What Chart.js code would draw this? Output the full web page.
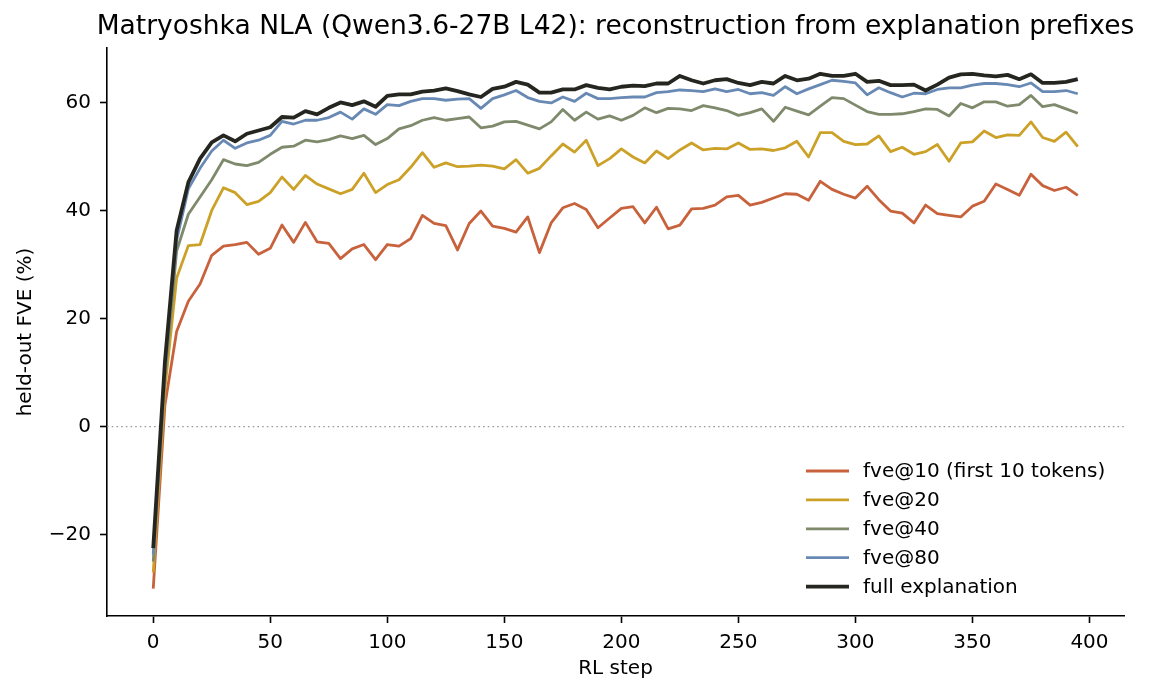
<!DOCTYPE html>
<html>
<head>
<meta charset="utf-8">
<script src="https://cdn.jsdelivr.net/npm/chart.js@4.4.1/dist/chart.umd.min.js"></script>
<style>
  html, body { margin: 0; padding: 0; background: #fff; overflow: hidden; }
  canvas { display: block; }
</style>
</head>
<body>
<canvas id="myChart" width="1152" height="696"></canvas>
<script>
// RL steps (x) and tick positions
const steps = [
  0, 5, 10, 15, 20, 25, 30, 35, 40, 45,
  50, 55, 60, 65, 70, 75, 80, 85, 90, 95,
  100, 105, 110, 115, 120, 125, 130, 135, 140, 145,
  150, 155, 160, 165, 170, 175, 180, 185, 190, 195,
  200, 205, 210, 215, 220, 225, 230, 235, 240, 245,
  250, 255, 260, 265, 270, 275, 280, 285, 290, 295,
  300, 305, 310, 315, 320, 325, 330, 335, 340, 345,
  350, 355, 360, 365, 370, 375, 380, 385, 390, 395
];
const xTicks = [0, 50, 100, 150, 200, 250, 300, 350, 400];
const yTicks = [-20, 0, 20, 40, 60];

// held-out FVE (%) per prefix length
const fve10 = [
  -30, 4, 17.6, 23.2, 26.4, 31.7, 33.4, 33.7, 34.1, 31.9,
  33.0, 37.3, 34.1, 37.8, 34.2, 33.9, 31.1, 32.9, 33.7, 30.9,
  33.7, 33.4, 34.8, 39.1, 37.6, 37.2, 32.7, 37.6, 39.9, 37.1,
  36.7, 36.0, 38.8, 32.2, 37.7, 40.5, 41.3, 40.2, 36.8, 38.6,
  40.4, 40.7, 37.7, 40.6, 36.6, 37.3, 40.3, 40.4, 41.0, 42.5,
  42.8, 41.0, 41.5, 42.3, 43.1, 43.0, 41.9, 45.4, 43.9, 43.0,
  42.3, 44.5, 42.0, 39.9, 39.5, 37.7, 41.0, 39.4, 39.1, 38.8,
  40.8, 41.7, 44.9, 43.9, 42.8, 46.7, 44.6, 43.7, 44.3, 42.8
];
const fve20 = [
  -27, 7, 27.5, 33.5, 33.7, 40.0, 44.2, 43.3, 41.1, 41.7,
  43.3, 46.2, 43.9, 46.5, 44.9, 44.0, 43.1, 43.9, 46.9, 43.3,
  44.8, 45.7, 48.0, 50.7, 48.0, 48.8, 48.1, 48.2, 48.4, 48.2,
  47.7, 49.4, 46.9, 47.8, 50.1, 52.3, 50.8, 53.0, 48.3, 49.6,
  51.4, 49.9, 48.8, 51.0, 49.6, 51.2, 52.5, 51.2, 51.5, 51.4,
  52.5, 51.3, 51.4, 51.1, 51.6, 52.8, 49.9, 54.4, 54.4, 52.8,
  52.2, 52.3, 53.8, 50.9, 51.7, 50.4, 50.9, 52.2, 49.1, 52.5,
  52.7, 54.7, 53.5, 54.0, 53.9, 56.4, 53.5, 52.8, 54.5, 51.8
];
const fve40 = [
  -25, 9, 32.5, 39.3, 42.5, 45.7, 49.4, 48.6, 48.3, 48.9,
  50.4, 51.7, 51.9, 53.0, 52.7, 53.1, 53.8, 53.3, 53.9, 52.2,
  53.3, 55.1, 55.7, 56.7, 57.2, 56.7, 57.0, 57.3, 55.3, 55.6,
  56.4, 56.5, 55.8, 55.1, 56.4, 58.7, 56.7, 58.2, 56.9, 57.5,
  56.7, 57.6, 59.0, 58.1, 58.9, 58.8, 58.5, 59.4, 59.0, 58.5,
  57.6, 58.1, 58.8, 56.5, 59.1, 58.4, 57.7, 59.3, 60.9, 60.7,
  59.5, 58.3, 57.8, 57.8, 57.9, 58.3, 58.8, 58.7, 57.5, 59.8,
  59.0, 60.1, 60.1, 59.3, 59.6, 61.3, 59.2, 59.6, 58.8, 58.0
];
const fve80 = [
  -23.7, 11, 34.5, 44.0, 47.8, 51.0, 53.0, 51.5, 52.5, 53.0,
  53.9, 56.5, 56.0, 56.7, 56.7, 57.2, 58.2, 56.9, 58.8, 57.8,
  59.6, 59.4, 60.2, 60.7, 60.7, 60.4, 60.6, 60.7, 58.9, 60.7,
  61.4, 62.2, 60.9, 60.2, 59.9, 61.0, 60.2, 61.7, 60.7, 60.7,
  60.9, 61.0, 61.0, 61.8, 62.0, 62.3, 62.2, 62.0, 62.5, 62.0,
  62.4, 61.6, 61.8, 61.3, 62.9, 61.6, 62.5, 63.3, 64.1, 63.9,
  63.6, 61.4, 62.7, 61.8, 61.0, 61.7, 61.6, 62.4, 62.7, 62.7,
  63.2, 63.5, 63.5, 63.3, 62.9, 63.6, 62.0, 62.0, 62.2, 61.6
];
const fveFull = [
  -22.5, 12, 36.3, 45.2, 49.6, 52.6, 53.9, 52.8, 54.2, 54.8,
  55.4, 57.3, 57.2, 58.4, 57.8, 59.0, 60.0, 59.5, 60.2, 59.2,
  61.2, 61.5, 61.5, 62.0, 62.2, 62.6, 62.1, 61.5, 61.0, 62.5,
  62.9, 63.8, 63.3, 61.8, 61.8, 62.4, 62.4, 63.2, 62.7, 62.4,
  62.9, 63.1, 63.0, 63.5, 63.5, 64.9, 64.1, 63.5, 64.1, 64.3,
  63.6, 63.2, 63.8, 63.5, 64.9, 64.1, 64.4, 65.3, 64.9, 64.9,
  65.3, 63.8, 64.0, 63.2, 63.2, 63.3, 62.2, 63.3, 64.6, 65.2,
  65.3, 65.0, 64.8, 65.1, 64.3, 65.2, 63.6, 63.6, 63.8, 64.3
];

const chartTitle = 'Matryoshka NLA (Qwen3.6-27B L42): reconstruction from explanation prefixes';

const FONT = "'DejaVu Sans', 'Liberation Sans', sans-serif";
Chart.defaults.font.family = FONT;
Chart.defaults.font.size = 20;
Chart.defaults.color = '#000';

function pts(vals) {
  return vals.map((v, i) => ({ x: steps[i], y: v }));
}

function series(label, vals, color, width, order) {
  return {
    label: label,
    data: pts(vals),
    borderColor: color,
    backgroundColor: color,
    borderWidth: width,
    pointRadius: 0,
    tension: 0,
    fill: false,
    borderJoinStyle: 'round',
    order: order
  };
}

// dotted zero reference line
const zeroLine = {
  id: 'zeroLine',
  beforeDatasetsDraw(chart) {
    const { ctx, chartArea, scales } = chart;
    const y = scales.y.getPixelForValue(0);
    ctx.save();
    ctx.strokeStyle = '#9a9a9a';
    ctx.lineWidth = 1.3;
    ctx.setLineDash([1.6, 3.1]);
    ctx.beginPath();
    ctx.moveTo(chartArea.left, y);
    ctx.lineTo(chartArea.right, y);
    ctx.stroke();
    ctx.restore();
  }
};

// title centred over the axes, like matplotlib
const axesTitle = {
  id: 'axesTitle',
  afterDraw(chart) {
    const { ctx, chartArea } = chart;
    ctx.save();
    ctx.font = '26.5px ' + FONT;
    ctx.fillStyle = '#000';
    ctx.textAlign = 'center';
    ctx.textBaseline = 'middle';
    ctx.fillText(chartTitle, (chartArea.left + chartArea.right) / 2, 27.5);
    ctx.restore();
  }
};

// frameless legend in lower right, matplotlib style
const lineLegend = {
  id: 'lineLegend',
  afterDraw(chart) {
    const { ctx, chartArea } = chart;
    const x0 = chartArea.right - 318;
    const y0 = chartArea.bottom - 145;
    ctx.save();
    ctx.font = '20px ' + FONT;
    ctx.textBaseline = 'middle';
    ctx.textAlign = 'left';
    chart.data.datasets.forEach((ds, i) => {
      const y = y0 + i * 28.9;
      ctx.strokeStyle = ds.borderColor;
      ctx.lineWidth = ds.borderWidth;
      ctx.beginPath();
      ctx.moveTo(x0, y);
      ctx.lineTo(x0 + 43, y);
      ctx.stroke();
      ctx.fillStyle = '#000';
      ctx.fillText(ds.label, x0 + 57, y + 1);
    });
    ctx.restore();
  }
};

const data = {
  datasets: [
    series('fve@10 (first 10 tokens)', fve10, '#c8623c', 2.8, 5),
    series('fve@20', fve20, '#cca128', 2.8, 4),
    series('fve@40', fve40, '#7e8a6b', 2.8, 3),
    series('fve@80', fve80, '#6889b4', 2.8, 2),
    series('full explanation', fveFull, '#262621', 3.8, 1)
  ]
};

const config = {
  type: 'line',
  data: data,
  options: {
    responsive: false,
    animation: false,
    devicePixelRatio: 1,
    layout: { padding: { left: 0, right: 28, top: 48, bottom: 0 } },
    plugins: {
      legend: { display: false },
      tooltip: { enabled: false },
      title: { display: false }
    },
    scales: {
      x: {
        type: 'linear',
        min: -19.75,
        max: 414.75,
        afterBuildTicks: (sc) => { sc.ticks = xTicks.map(v => ({ value: v })); },
        afterFit: (sc) => { sc.height = 80; },
        ticks: { padding: 8, maxRotation: 0, color: '#000' },
        grid: { drawOnChartArea: false, drawTicks: true, tickLength: 7, tickWidth: 1.6, tickColor: '#000' },
        border: { display: true, color: '#000', width: 1.6 },
        title: { display: true, text: 'RL step', padding: { top: 0, bottom: 15 }, color: '#000' }
      },
      y: {
        type: 'linear',
        min: -35.05,
        max: 70.07,
        afterBuildTicks: (sc) => { sc.ticks = yTicks.map(v => ({ value: v })); },
        afterFit: (sc) => { sc.width = 107; },
        ticks: {
          padding: 9,
          color: '#000',
          callback: (v) => String(v).replace('-', '\u2212')
        },
        grid: { drawOnChartArea: false, drawTicks: true, tickLength: 7, tickWidth: 1.6, tickColor: '#000' },
        border: { display: true, color: '#000', width: 1.6 },
        title: { display: true, text: 'held-out FVE (%)', padding: { top: 14, bottom: 0 }, color: '#000' }
      }
    }
  },
  plugins: [zeroLine, axesTitle, lineLegend]
};

const myChart = new Chart(document.getElementById('myChart'), config);
</script>
</body>
</html>
